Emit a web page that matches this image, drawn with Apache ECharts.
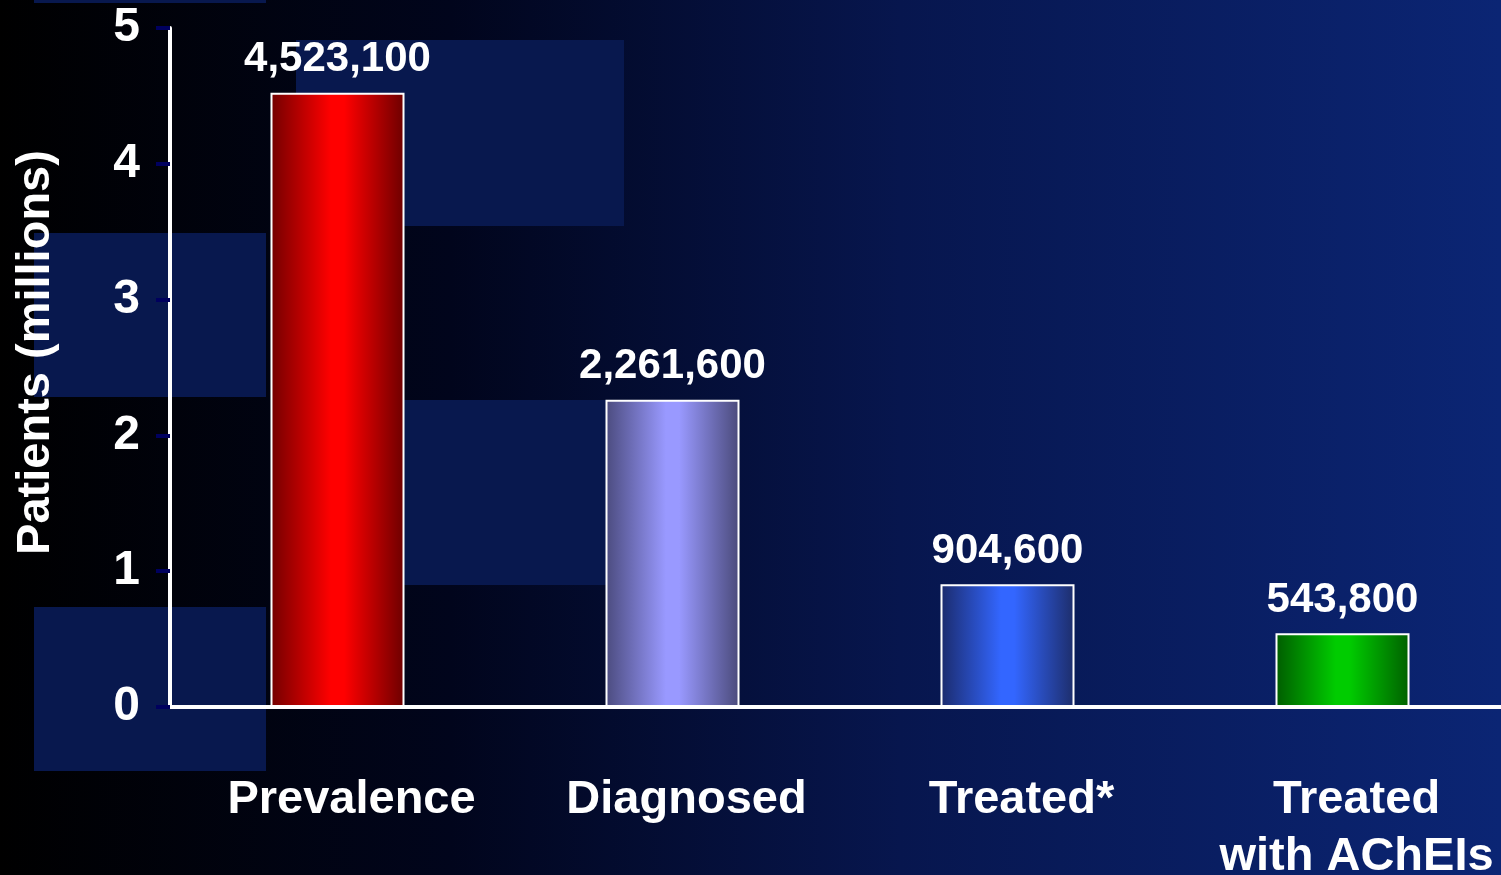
<!DOCTYPE html>
<html>
<head>
<meta charset="utf-8">
<script src="https://cdn.jsdelivr.net/npm/echarts@6/dist/echarts.min.js"></script>
<style>
  html, body { margin: 0; padding: 0; background: #000; }
  #chart { width: 1501px; height: 875px; }
</style>
</head>
<body>
<div id="chart"></div>
<script>
const CATEGORIES = ["Prevalence", "Diagnosed", "Treated*", "Treated\nwith AChEIs"];
const PATIENTS = [4523100, 2261600, 904600, 543800];
const Y_TICKS = [0, 1, 2, 3, 4, 5];

// edge, centre, edge
const BAR_SHADES = [
  ["#720000", "#ff0000", "#6c0000"],
  ["#4b4b7e", "#9999ff", "#4a4a7a"],
  ["#1b2b6c", "#3366ff", "#1d2d6a"],
  ["#005c00", "#00cc00", "#006000"],
];

const FONT = "'Liberation Sans', Arial, Helvetica, sans-serif";

function shade(colors) {
  return new echarts.graphic.LinearGradient(0, 0, 1, 0, [
    { offset: 0, color: colors[0] },
    { offset: 0.45, color: colors[1] },
    { offset: 0.55, color: colors[1] },
    { offset: 1, color: colors[2] },
  ]);
}

function panel(x, y, width, height) {
  return {
    type: "rect",
    z: -1,
    silent: true,
    shape: { x, y, width, height },
    style: { fill: "#08184e" },
  };
}

const chart = echarts.init(document.getElementById("chart"), null, { renderer: "canvas" });

chart.setOption({
  backgroundColor: new echarts.graphic.LinearGradient(0, 0, 1, 0, [
    { offset: 0, color: "#000000" },
    { offset: 0.3, color: "#01051c" },
    { offset: 0.6, color: "#07164e" },
    { offset: 1, color: "#0b2574" },
  ]),
  animation: false,
  textStyle: { fontFamily: FONT },
  graphic: [
    panel(34, 0, 232, 3),
    panel(34, 233, 232, 164),
    panel(34, 607, 232, 164),
    panel(296, 40, 328, 186),
    panel(296, 400, 328, 185),
  ],
  grid: {
    left: 170,
    right: -9,
    top: 28,
    bottom: 168,
    containLabel: false,
    outerBoundsMode: "none",
  },
  xAxis: {
    type: "category",
    data: CATEGORIES,
    axisLine: { lineStyle: { color: "#ffffff", width: 4 } },
    axisTick: { show: false },
    axisLabel: {
      color: "#ffffff",
      fontFamily: FONT,
      fontWeight: "bold",
      fontSize: 47,
      lineHeight: 57,
      margin: 65,
      padding: [0, 0, 0, 28],
      interval: 0,
    },
  },
  yAxis: {
    type: "value",
    min: Y_TICKS[0],
    max: Y_TICKS[Y_TICKS.length - 1] * 1e6,
    interval: 1e6,
    name: "Patients (millions)",
    nameLocation: "middle",
    nameRotate: 90,
    nameGap: 110,
    nameTextStyle: {
      color: "#ffffff",
      fontFamily: FONT,
      fontWeight: "bold",
      fontSize: 47,
      padding: [0, 0, 0, 30],
    },
    axisLine: { show: true, lineStyle: { color: "#ffffff", width: 4 } },
    axisTick: { show: true, length: 14, lineStyle: { color: "#00005e", width: 4 } },
    axisLabel: {
      color: "#ffffff",
      fontFamily: FONT,
      fontWeight: "bold",
      fontSize: 48,
      margin: 30,
      formatter: (value) => `${value / 1e6}`,
    },
    splitLine: { show: false },
  },
  series: [
    {
      type: "bar",
      barWidth: 134,
      data: PATIENTS.map((value, i) => ({
        value,
        itemStyle: {
          color: shade(BAR_SHADES[i]),
          borderColor: "#ffffff",
          borderWidth: 2,
        },
      })),
      label: {
        show: true,
        position: "top",
        distance: 12,
        color: "#ffffff",
        fontFamily: FONT,
        fontWeight: "bold",
        fontSize: 42,
        formatter: (p) => p.value.toLocaleString("en-US"),
      },
    },
  ],
});
</script>
</body>
</html>
